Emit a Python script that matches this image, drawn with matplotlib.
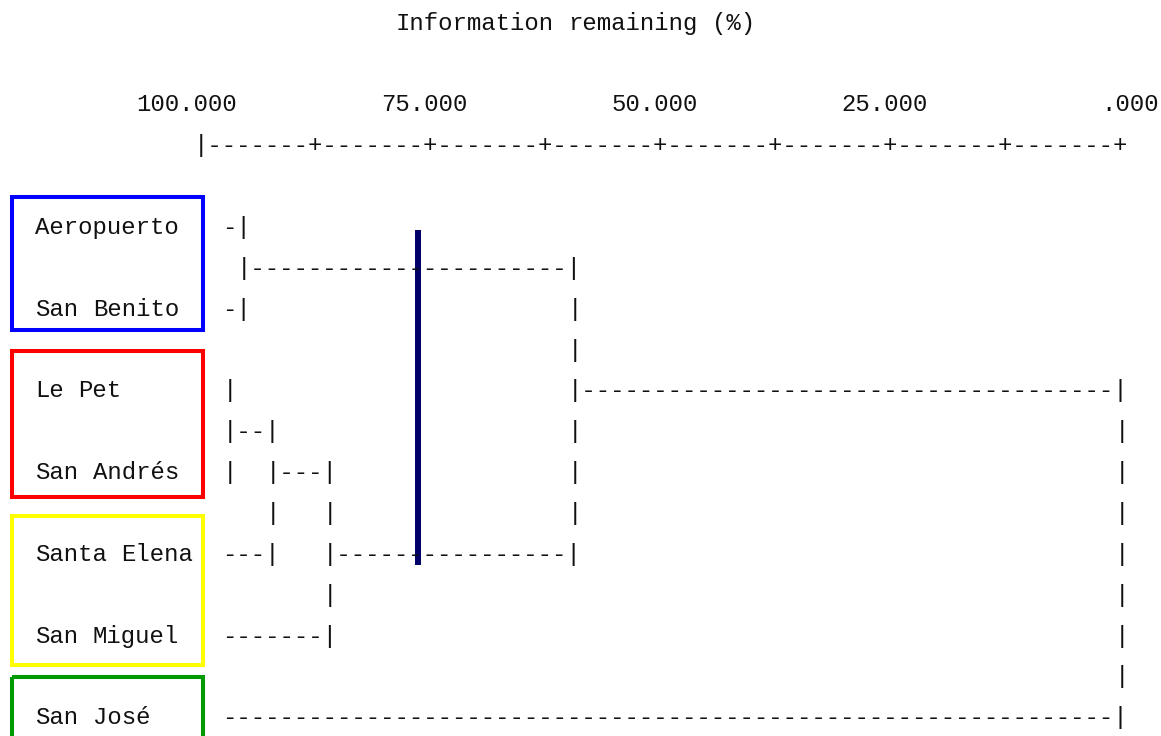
import matplotlib
matplotlib.use("Agg")
import matplotlib.pyplot as plt
from matplotlib.patches import Rectangle

# ---- data -------------------------------------------------------------
site_names = ["Aeropuerto", "San Benito", "Le Pet", "San Andrés",
              "Santa Elena", "San Miguel", "San José"]

# agglomeration steps: ids 0..6 are sites, step k creates cluster id 7+k
merge_left = [2, 0, 7, 9, 8, 11]
merge_right = [3, 1, 4, 5, 10, 6]
merge_info = [97.0, 95.5, 92.0, 86.0, 59.5, 0.0]   # information remaining (%)

tick_values = [100, 75, 50, 25, 0]
minor_step = 12.5
axis_title = "Information remaining (%)"

groups = [[0, 1], [2, 3], [4, 5], [6]]
group_colors = ["#0000ff", "#ff0000", "#ffff00", "#009a00"]

cut_level = 76.4   # information remaining at the cut

# ---- character grid layout -------------------------------------------
W, H, DPI = 1161, 736, 100
CHAR_W, ROW_H = 14.4, 40.85          # pixels per column / per text row
X0, Y0 = 35.2, 23.0                  # pixel origin of column 0 / row 0
FONT = "Liberation Mono"
FSIZE = CHAR_W / 0.6 * 72 / DPI      # monospace advance is 0.6 em
BASE = 6.8 / ROW_H                   # baseline sits a bit below row centre

AXIS_COL = 11                        # column of 100 %
SPAN = 64                            # columns from 100 % to 0 %
LEAF_START = AXIS_COL + 2
FIRST_LEAF_ROW = 5
N_COLS = 80
N_ROWS = FIRST_LEAF_ROW + 2 * len(site_names)


def info_col(p):
    return AXIS_COL + int(round((100 - p) * SPAN / 100))


grid = [[" "] * N_COLS for _ in range(N_ROWS)]


def put(row, col, s):
    for i, ch in enumerate(s):
        grid[row][col + i] = ch


# title
put(0, 25, axis_title)

# scale labels, right-aligned two columns past their tick
for v in tick_values:
    lab = f"{v:.3f}"
    if lab.startswith("0"):
        lab = lab[1:]
    end = info_col(v) + 2
    put(2, end - len(lab) + 1, lab)

# scale bar
n_steps = int(round(100 / minor_step))
step_cols = SPAN // n_steps
put(3, AXIS_COL, "|")
for c in range(AXIS_COL + 1, AXIS_COL + SPAN + 1):
    grid[3][c] = "+" if (c - AXIS_COL) % step_cols == 0 else "-"

# site labels
node_row = {}
node_col = {}
for i, name in enumerate(site_names):
    r = FIRST_LEAF_ROW + 2 * i
    put(r, 0, name)
    node_row[i] = r
    node_col[i] = None

# dendrogram branches
for k, (a, b, p) in enumerate(zip(merge_left, merge_right, merge_info)):
    m = info_col(p)
    for child in (a, b):
        r = node_row[child]
        start = LEAF_START if node_col[child] is None else node_col[child] + 1
        for c in range(start, m):
            grid[r][c] = "-"
    r0, r1 = sorted((node_row[a], node_row[b]))
    for r in range(r0, r1 + 1):
        grid[r][m] = "|"
    nid = len(site_names) + k
    node_row[nid] = (r0 + r1) // 2
    node_col[nid] = m

# ---- drawing -----------------------------------------------------------
fig = plt.figure(figsize=(W / DPI, H / DPI), dpi=DPI)
ax = fig.add_axes([0, 0, 1, 1])
ax.set_xlim(-X0 / CHAR_W, (W - X0) / CHAR_W)
ax.set_ylim((H - Y0) / ROW_H, -Y0 / ROW_H)
ax.axis("off")

for r, chars in enumerate(grid):
    c = 0
    while c < N_COLS:
        if chars[c] == " ":
            c += 1
            continue
        start = c
        while c < N_COLS and chars[c] != " ":
            c += 1
        ax.text(start, r + BASE, "".join(chars[start:c]), family=FONT,
                fontsize=FSIZE, color="#111111", ha="left", va="baseline")

# coloured boxes around site groups
box_left, box_right = -1.61, 11.65
pad_top = [0.74, 0.96, 0.94, 0.99]
pad_bottom = [0.51, 0.60, 0.71, 1.60]
for members, color, pt, pb in zip(groups, group_colors, pad_top, pad_bottom):
    top = node_row[members[0]] - pt
    bottom = node_row[members[-1]] + pb
    ax.add_patch(Rectangle((box_left, top), box_right - box_left, bottom - top,
                           fill=False, edgecolor=color, linewidth=2.9,
                           clip_on=False))

# cut line
cut_x = AXIS_COL + 0.5 + (100 - cut_level) * SPAN / 100
ax.plot([cut_x, cut_x], [5.07, 13.27], color="#000068", linewidth=4.3,
        solid_capstyle="butt")

fig.savefig("out.png", dpi=DPI)
